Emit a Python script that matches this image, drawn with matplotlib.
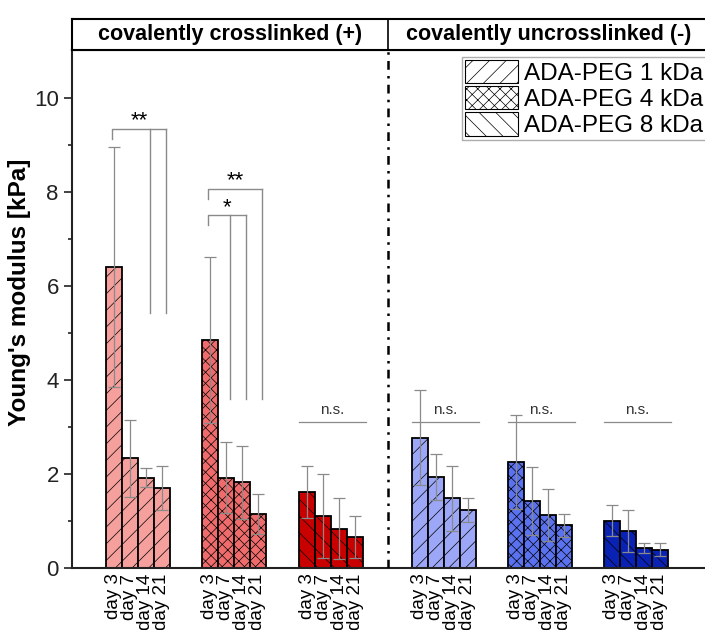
import numpy as np
import matplotlib
matplotlib.use('Agg')
import matplotlib.pyplot as plt
from matplotlib.patches import Patch

plt.rcParams['font.family'] = ['Liberation Sans', 'DejaVu Sans']
plt.rcParams['hatch.linewidth'] = 0.5

# data
days = ['day 3', 'day 7', 'day 14', 'day 21']
legend_labels = ['ADA-PEG 1 kDa', 'ADA-PEG 4 kDa', 'ADA-PEG 8 kDa']
header_labels = ['covalently crosslinked (+)', 'covalently uncrosslinked (-)']

cl_1kda = [6.40, 2.33, 1.92, 1.71]
cl_1kda_err = [2.55, 0.82, 0.20, 0.47]
cl_4kda = [4.85, 1.92, 1.82, 1.15]
cl_4kda_err = [1.77, 0.75, 0.77, 0.43]
cl_8kda = [1.62, 1.11, 0.84, 0.66]
cl_8kda_err = [0.55, 0.89, 0.65, 0.45]
uncl_1kda = [2.77, 1.93, 1.48, 1.23]
uncl_1kda_err = [1.01, 0.49, 0.70, 0.25]
uncl_4kda = [2.26, 1.42, 1.13, 0.91]
uncl_4kda_err = [1.00, 0.72, 0.55, 0.24]
uncl_8kda = [1.01, 0.79, 0.43, 0.39]
uncl_8kda_err = [0.32, 0.44, 0.11, 0.14]

means = [cl_1kda, cl_4kda, cl_8kda, uncl_1kda, uncl_4kda, uncl_8kda]
errs = [cl_1kda_err, cl_4kda_err, cl_8kda_err, uncl_1kda_err, uncl_4kda_err, uncl_8kda_err]

# significance: (group, bar indices compared with day 3, bracket height, line end, label)
sig = [(0, [2, 3], 9.34, 5.43, '**'),
       (1, [3], 8.06, 3.60, '**'),
       (1, [1, 2], 7.50, 3.60, '*')]
ns_groups = [2, 3, 4, 5]
ns_level = 3.1

# style
colors = ['#F5A09C', '#F06C6C', '#C80000', '#9CA7F7', '#5A72EF', '#0A22B4']
hatches = ['//', 'xxx', '\\\\', '//', 'xxx', '\\\\']
group_pos = [4.125, 10.125, 16.2, 23.25, 29.25, 35.25]
divider = 19.75
xmax = 39.9
offsets = np.array([-1.5, -0.5, 0.5, 1.5])

fig = plt.figure(figsize=(7.05, 6.3), dpi=100)
ax = fig.add_axes([72 / 705, 62 / 630, 638 / 705, 518 / 630])
hdr = fig.add_axes([72 / 705, 580 / 630, 638 / 705, 31 / 630])

tick_pos = []
for g in range(6):
    x = group_pos[g] + offsets
    ax.bar(x, means[g], width=1.0, color=colors[g], edgecolor='black',
           linewidth=1.3, hatch=hatches[g], zorder=2)
    ax.errorbar(x, means[g], yerr=errs[g], fmt='none', ecolor='#8a8a8a',
                elinewidth=0.9, capsize=4, capthick=0.9, zorder=3)
    tick_pos.extend(x)

# significance brackets
for g, idx, yb, yend, lab in sig:
    x0 = group_pos[g] + offsets[0] - 0.1
    xs = [group_pos[g] + offsets[i] + 0.25 for i in idx]
    ax.plot([x0, x0, xs[-1]], [yb - 0.21, yb, yb], color='#8a8a8a', lw=1, zorder=3)
    for xv in xs:
        ax.plot([xv, xv], [yb, yend], color='#8a8a8a', lw=1, zorder=3)
    ax.text((x0 + xs[-1]) / 2, yb - 0.05, lab, ha='center', va='bottom',
            fontsize=16, color='black')

for g in ns_groups:
    x0 = group_pos[g] - 2.0
    x1 = group_pos[g] + 2.2
    ax.plot([x0, x1], [ns_level, ns_level], color='#8a8a8a', lw=0.9, zorder=3)
    ax.text((x0 + x1) / 2, ns_level + 0.12, 'n.s.', ha='center', va='bottom',
            fontsize=11, color='#333333')

ax.axvline(divider, color='black', lw=1.8, linestyle=(0, (3.5, 2.5, 1, 2.5)), zorder=4)

ax.set_xlim(0, xmax)
ax.set_ylim(0, 11.02)
ax.set_yticks([0, 2, 4, 6, 8, 10])
ax.set_yticks([1, 3, 5, 7, 9], minor=True)
ax.set_xticks(tick_pos)
ax.set_xticklabels(days * 6, rotation=90, fontsize=13.5)
ax.tick_params(axis='x', length=0, pad=4)
ax.tick_params(axis='y', which='major', length=6, width=1.2, labelsize=16,
               colors='#222222', direction='out')
ax.tick_params(axis='y', which='minor', length=3, width=1.2, colors='#222222')
ax.set_ylabel("Young's modulus [kPa]", fontsize=17.5, fontweight='bold')
ax.yaxis.set_label_coords(-0.065, 0.533)
for s in ['left', 'bottom', 'top']:
    ax.spines[s].set_linewidth(1.5)
    ax.spines[s].set_color('#222222')
ax.spines['right'].set_visible(False)

handles = [Patch(facecolor='white', edgecolor='black', hatch=h, linewidth=0.8)
           for h in hatches[:3]]
ax.legend(handles, legend_labels, loc='upper left', bbox_to_anchor=(462 / 705, 1 - 57 / 630),
          bbox_transform=fig.transFigure, fontsize=17.5, frameon=True, fancybox=False,
          edgecolor='#999999', handlelength=2.2, handleheight=1.1, labelspacing=0.05,
          handletextpad=0.25, borderpad=0.12, borderaxespad=0)

# header boxes
hdr.set_xlim(0, xmax)
hdr.set_ylim(0, 1)
hdr.set_xticks([])
hdr.set_yticks([])
for s in hdr.spines.values():
    s.set_linewidth(1.5)
hdr.axvline(divider, color='black', lw=1.2)
hdr.text(divider / 2, 0.5, header_labels[0], ha='center', va='center',
         fontsize=15.5, fontweight='bold')
hdr.text((divider + xmax) / 2, 0.5, header_labels[1], ha='center', va='center',
         fontsize=15.5, fontweight='bold')

fig.savefig('out.png', dpi=100, facecolor='white')
plt.close(fig)
